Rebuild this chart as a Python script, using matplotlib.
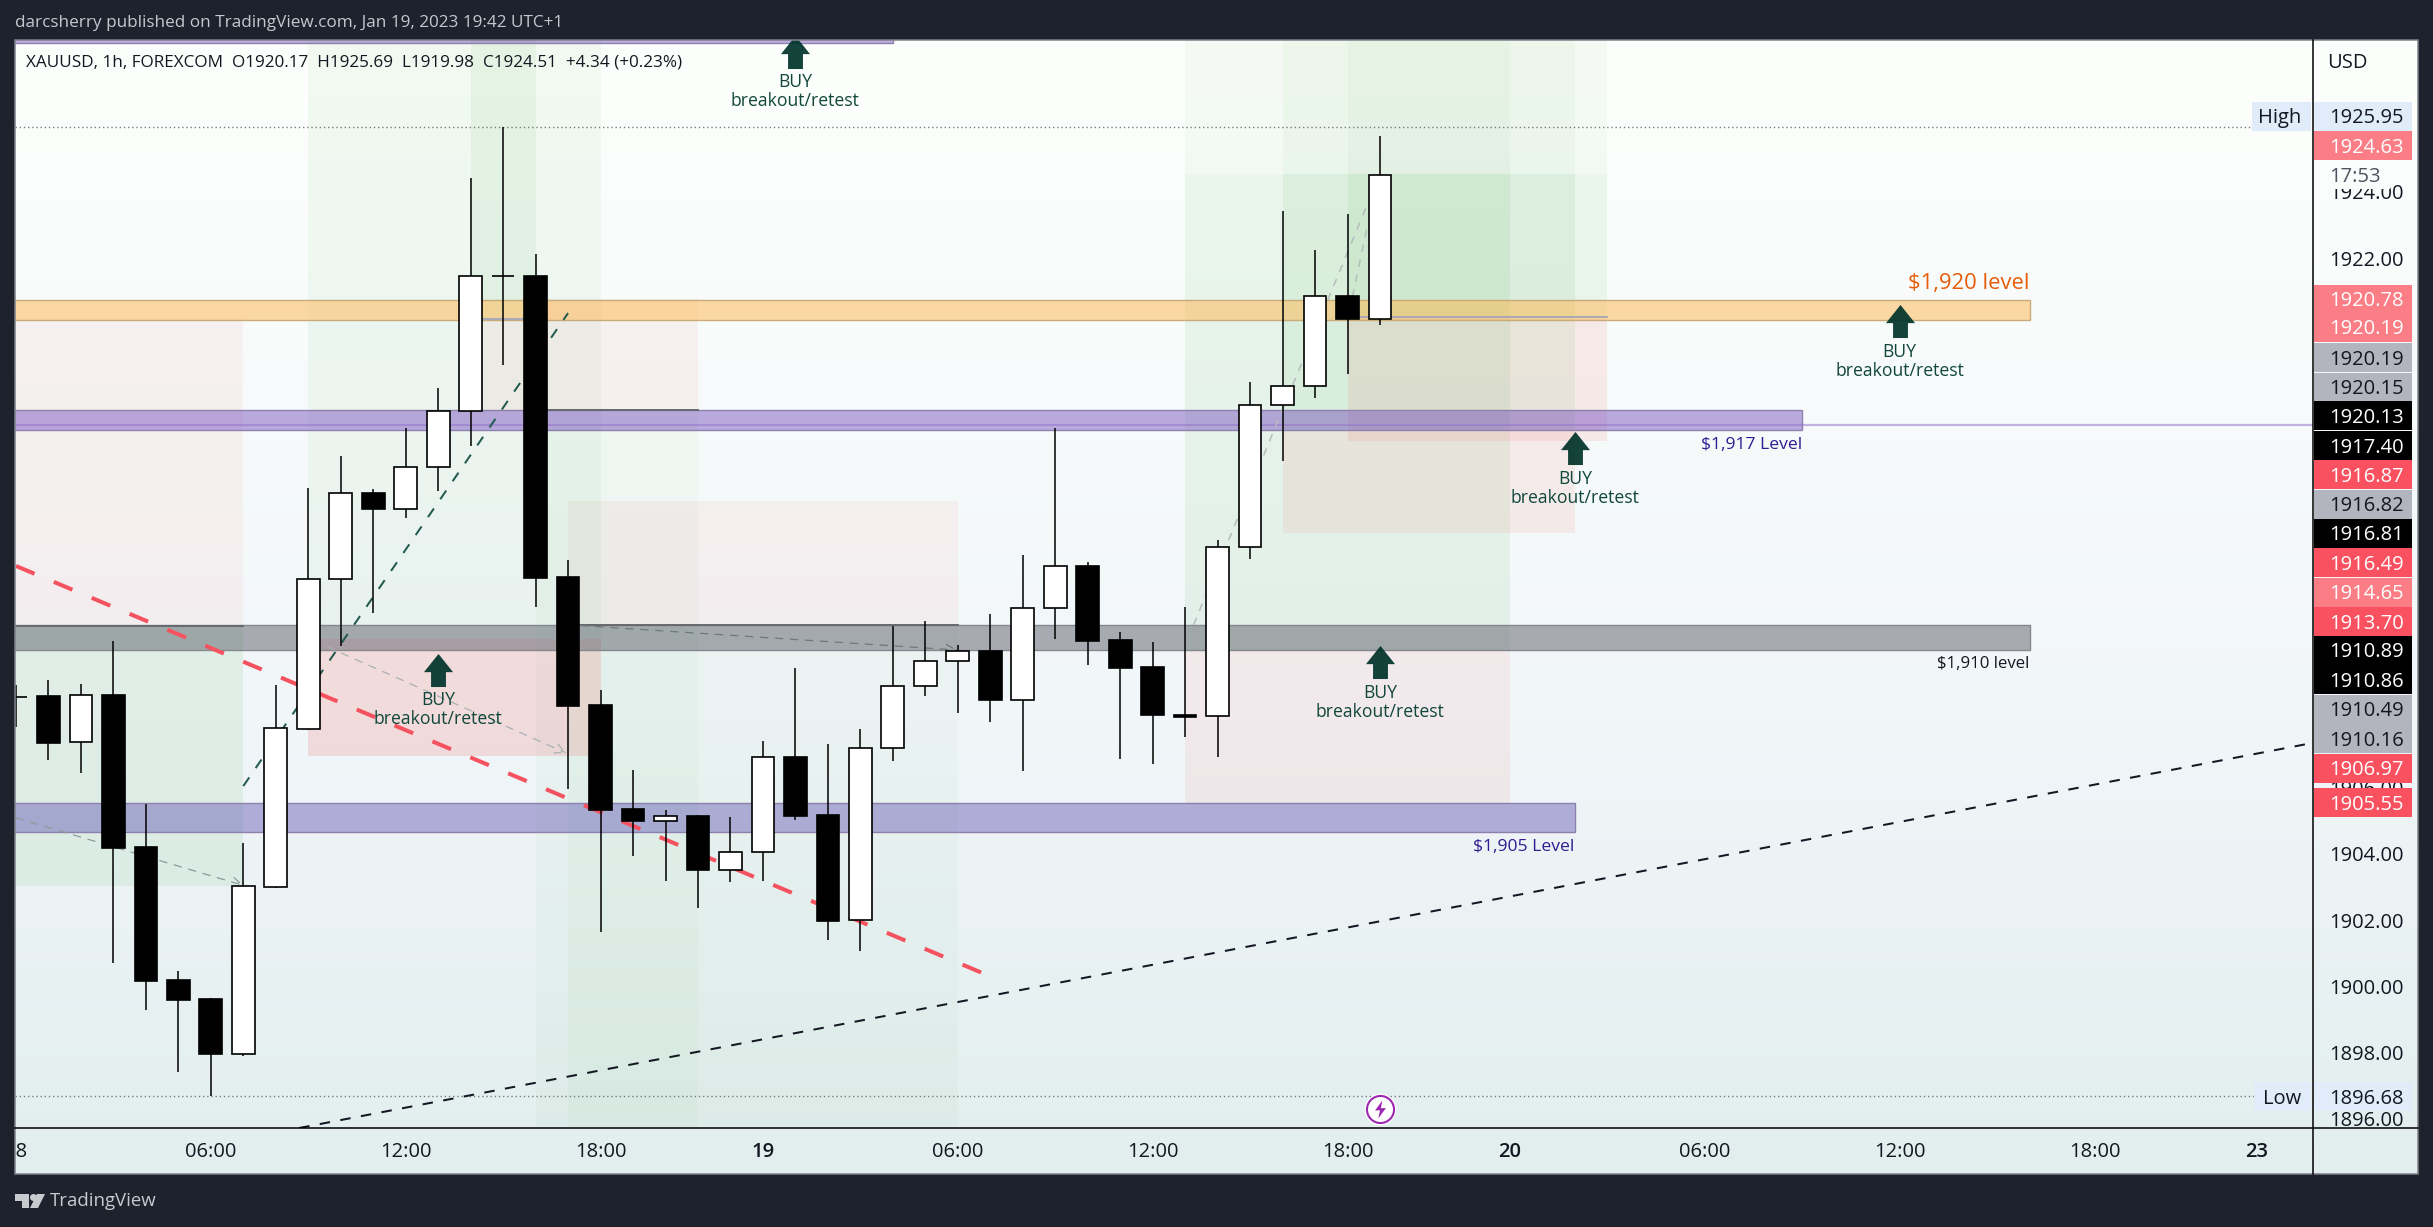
import numpy as np
import matplotlib
matplotlib.use("Agg")
import matplotlib.pyplot as plt
from matplotlib.colors import LinearSegmentedColormap, to_rgba
from matplotlib.patches import Rectangle, Polygon, Circle
from matplotlib.path import Path

plt.rcParams['font.family'] = ['Open Sans', 'DejaVu Sans']

# ---------- data ----------
bar_index = list(range(-6, 37))
opens = [1908.75,1908.77,1907.37,1908.80,1904.21,1900.19,1899.61,1897.97,1903.01,1907.78,1912.30,1914.91,1914.43,1915.68,1917.37,1921.46,1921.46,1912.37,1908.50,1905.36,1905.01,1905.15,1903.50,1904.05,1906.93,1905.18,1902.00,1907.19,1909.07,1909.82,1910.13,1908.66,1911.42,1912.70,1910.47,1909.65,1908.21,1908.16,1913.27,1917.56,1918.13,1920.86,1920.17]
highs = [1909.10,1909.26,1909.14,1910.43,1905.51,1900.46,1899.65,1904.33,1909.10,1915.06,1916.02,1915.03,1916.87,1918.08,1924.42,1925.95,1922.13,1912.88,1908.95,1906.54,1905.33,1905.18,1905.12,1907.41,1909.62,1907.32,1907.78,1910.90,1911.04,1910.31,1911.25,1913.03,1916.86,1912.82,1910.71,1910.40,1911.46,1913.48,1918.26,1923.43,1922.25,1923.34,1925.69]
lows = [1907.83,1906.85,1906.45,1900.70,1899.30,1897.41,1896.68,1897.90,1902.97,1907.75,1910.28,1911.29,1914.16,1914.95,1916.31,1918.78,1911.47,1905.97,1901.65,1903.95,1903.19,1902.38,1903.16,1903.17,1905.03,1901.41,1901.08,1906.82,1908.78,1908.27,1908.00,1906.52,1910.50,1909.72,1906.88,1906.73,1907.54,1906.94,1912.92,1915.88,1917.76,1918.51,1919.98]
closes = [1908.74,1907.36,1908.79,1904.18,1900.17,1899.60,1897.97,1903.02,1907.79,1912.30,1914.90,1914.42,1915.68,1917.37,1921.45,1921.45,1912.35,1908.48,1905.34,1905.01,1905.14,1903.50,1904.05,1906.92,1905.15,1901.98,1907.19,1909.07,1909.82,1910.12,1908.66,1911.42,1912.69,1910.44,1909.63,1908.21,1908.14,1913.27,1917.56,1918.13,1920.85,1920.16,1924.51]

price_ticks = [1896,1898,1900,1902,1904,1906,1922,1924]
time_ticks = [-6,0,6,12,17,23,29,35,40,46,52,58,63]
time_labels = ['18','06:00','12:00','18:00','19','06:00','12:00','18:00','20','06:00','12:00','18:00','23']
bold_time = {'19','20','23'}

green_zones = [(-7,1,1903.03,1910.89,.10),(3,12,1910.49,1929,.06),(8,10,1920.15,1929,.08),
               (10,15,1895,1917.40,.04),(11,23,1895,1910.86,.04),
               (30,40,1910.16,1924.54,.09),(30,40,1924.54,1929,.045),
               (33,42,1916.81,1924.54,.085),(33,42,1924.54,1929,.045),
               (35,43,1920.19,1924.54,.085),(35,43,1924.54,1929,.045)]
red_zones = [(-7,1,1910.89,1920.19,.05),(3,12,1906.97,1910.49,.15),(8,10,1917.40,1920.15,.06),
             (10,15,1917.40,1920.78,.06),(11,23,1910.86,1914.65,.05),
             (30,40,1905.55,1910.16,.07),(33,42,1913.70,1916.81,.08),(35,43,1916.49,1920.19,.09)]
entry_lines = [(-7,1,1910.89,'#666a6e'),(10,15,1917.42,'#666a6e'),(11,23,1910.93,'#666a6e'),
               (8,10,1920.15,'#a9a9b8'),(35,43,1920.22,'#a9a9b8')]

bands = [(-7,21,1928.49,1929.5,'#673ab7',.42,'#8c80ad'),
         (-7,56,1920.14,1920.73,'#ffb74d',.50,'#c8ab78'),
         (-7,49,1916.80,1917.40,'#673ab7',.42,'#8c80ad'),
         (-7,56,1910.15,1910.91,'#5d606b',.50,'#85888c'),
         (-7,42,1904.67,1905.53,'#5a4cb0',.42,'#8c80ad')]

red_trend = ([-6,23.98],[1912.70,1900.31])
black_trend = ([2.72,64.7],[1895.72,1907.35])
green_trend = ([1.0,11.0],[1906.05,1920.34])
arrow_trends = [((-6,1905.09),(1,1903.05),'#8f9a9a'),((3.6,1910.25),(10.94,1907.05),'#aab0b4'),
                ((11.39,1910.90),(22.98,1910.16),'#6f7a78')]
thin_trends = [([30.26,35.58],[1910.92,1923.55]),([35.15,35.6],[1920.83,1922.91])]

buy_x = [18,7,36,42,52]
buy_center = [1928.24,1909.57,1909.79,1916.25,1920.09]
buy_text = 'BUY\nbreakout/retest'

high_price, low_price = 1925.95, 1896.68
level_notes = [(56,1921.24,'$1,920 level','#e65c0a',15.8),(49,1916.34,'$1,917 Level','#311b92',12.6),
               (42,1904.22-.0,'$1,905 Level','#311b92',12.6),(56,1909.74,'$1,910 level','#131722',12.1)]

badge_labels = ['1925.95','1924.63','1920.78','1920.19','1920.19','1920.15','1920.13','1917.40','1916.87','1916.82','1916.81','1916.49','1914.65','1913.70','1910.89','1910.86','1910.49','1910.16','1906.97','1905.55','1896.68']
badge_kind = ['hl','lr','lr','lr','g','g','k','k','r','g','k','r','lr','r','k','k','g','g','r','r','hl']

# ---------- layout (pixels) ----------
W, H = 2433, 1227
PL, PT, PR, PB = 15, 40, 2418, 1174      # outer chart panel
GX, GY = 2312.7, 1128                    # price/time axis separators
badge_y = [116,145.7,299,327.3,357.7,387,415.7,445.7,474.7,504,533.3,562.7,592,621.7,650.3,679.7,709.3,738.7,768.3,802.7,1096.7]
badge_style = {'hl':('#e1ecfa','#131722'),'lr':('#fb7d85','#ffffff'),'g':('#b2b5be','#131722'),
               'k':('#000000','#ffffff'),'r':('#fa5160','#ffffff')}
FS = 14.5
TXT = '#131722'

fig = plt.figure(figsize=(W/100, H/100), dpi=100, facecolor='#1e222d')

# background gradient
axb = fig.add_axes([0,0,1,1], zorder=0)
axb.set_xlim(0,W); axb.set_ylim(H,0); axb.axis('off')
cmap = LinearSegmentedColormap.from_list('bg',[(0,'#fdfffc'),(.35,'#f6fafa'),(.6,'#f1f6f9'),(1,'#e2eeee')])
axb.imshow(np.linspace(0,1,256)[:,None], cmap=cmap, aspect='auto', extent=(PL,PR,PB,PT), vmin=0, vmax=1)
axb.set_xlim(0,W); axb.set_ylim(H,0)

# main axes
ax = fig.add_axes([PL/W, 1-GY/H, (GX-PL)/W, (GY-PT)/H], zorder=1)
ax.patch.set_alpha(0)
ax.set_xlim(-6.03,64.72); ax.set_ylim(1895.72,1928.59)
for s in ax.spines.values(): s.set_visible(False)
ax.yaxis.tick_right()
ax.set_yticks(price_ticks); ax.set_yticklabels([f'{p:.2f}' for p in price_ticks])
ax.set_xticks(time_ticks); ax.set_xticklabels(time_labels)
ax.tick_params(axis='y', length=0, pad=11.7, labelsize=FS, labelcolor=TXT)
ax.tick_params(axis='x', length=0, pad=9.8, labelsize=FS, labelcolor=TXT)
for l in ax.get_xticklabels():
    if l.get_text() in bold_time: l.set_fontweight('semibold')

for x0,x1,lo,hi,a in green_zones:
    ax.bar(x0,hi-lo,x1-x0,lo,align='edge',color='#4caf50',alpha=a,lw=0,zorder=1)
for x0,x1,lo,hi,a in red_zones:
    ax.bar(x0,hi-lo,x1-x0,lo,align='edge',color='#f44336',alpha=a,lw=0,zorder=1)
for x0,x1,lo,hi,c,a,e in bands:
    ax.bar(x0,hi-lo,x1-x0,lo,align='edge',facecolor=to_rgba(c,a),edgecolor=e,lw=1.0,zorder=2)
for x0,x1,y,c in entry_lines:
    ax.plot([x0,x1],[y,y],color=c,lw=1.4,zorder=2.2)
ax.axhline(1916.97,color='#9575cd',alpha=.55,lw=1.6,zorder=2.3)
ax.axhline(high_price,xmax=(2252-PL)/(GX-PL),color='#787b86',lw=1,ls=(0,(1,2)),zorder=2.3)
ax.axhline(low_price,xmax=(2254-PL)/(GX-PL),color='#787b86',lw=1,ls=(0,(1,2)),zorder=2.3)

ax.plot(*red_trend,color='#f5525f',lw=2.9,ls=(0,(5.0,5.2)),dash_capstyle='butt',zorder=3)
ax.plot(*black_trend,color='#131722',lw=1.45,ls=(0,(5.2,5.2)),dash_capstyle='butt',zorder=3)
ax.plot(*green_trend,color='#235b50',lw=1.45,ls=(0,(5.2,5.6)),dash_capstyle='butt',zorder=3)
for xs,ys in thin_trends:
    ax.plot(xs,ys,color='#b4bcbc',lw=1.1,ls=(0,(5,5)),zorder=3)
for a,b,c in arrow_trends:
    ax.annotate('',xy=b,xytext=a,zorder=3,
                arrowprops=dict(arrowstyle='->,head_length=0.7,head_width=0.35',color=c,lw=.9,ls=(0,(6,6)),shrinkA=0,shrinkB=0))

# candles
o,h,l,c = map(np.array,(opens,highs,lows,closes))
xs = np.array(bar_index)
up = c>=o
ax.vlines(xs,l,h,color='black',lw=1.1,zorder=4)
bot = np.minimum(o,c); ht = np.maximum(np.abs(c-o),0.01)
ax.bar(xs,ht,0.70,bot,color=np.where(up,'white','black').tolist(),edgecolor='black',lw=1.2,zorder=4.2)

# BUY arrows
arrow = Path([(-.88,-.1),(0,1),(.88,-.1),(.45,-.1),(.45,-1),(-.45,-1),(-.45,-.1),(-.88,-.1)],closed=True)
ax.plot(buy_x,buy_center,ls='',marker=arrow,ms=23.8,mfc='#00332a',mec='none',alpha=.92,zorder=5)
for x,y in zip(buy_x,buy_center):
    ax.annotate(buy_text,(x,y),xytext=(0,-15.5),textcoords='offset points',ha='center',va='top',
                fontsize=12.7,color='#12473c',linespacing=1.06,zorder=5,annotation_clip=False)

for x,y,t,col,fs in level_notes:
    ax.text(x,y,t,color=col,fontsize=fs,ha='right',va='center',zorder=5)

# event icon
ax.plot([36],[1896.30],marker='o',ms=21.6,mfc='white',mec='white',zorder=6)
ax.plot([36],[1896.30],marker='o',ms=19.5,mfc='none',mec='#9c27b0',mew=1.5,zorder=6.1)
bolt = Path([(.2,1),(-.6,-.1),(-.05,-.1),(-.25,-1),(.6,.15),(.05,.15),(.2,1)],closed=True)
ax.plot([36],[1896.30],marker=bolt,ms=13,mfc='#9c27b0',mec='none',zorder=6.2)

# chrome overlay
axo = fig.add_axes([0,0,1,1], zorder=3)
axo.patch.set_alpha(0); axo.set_xlim(0,W); axo.set_ylim(H,0); axo.axis('off')
axo.add_patch(Rectangle((0,0),PL,H,fc='#1e222d',ec='none'))
axo.add_patch(Rectangle((PL,PT),PR-PL,PB-PT,fc='none',ec='#7e8189',lw=1.1))
axo.plot([GX,GX],[PT,PB],color='black',lw=1.1)
axo.plot([PL,PR],[GY,GY],color='black',lw=1.1)
BX0, BX1 = 2313.5, 2412
DY = 2
for t,k,y in zip(badge_labels,badge_kind,badge_y):
    fc,tc = badge_style[k]
    axo.add_patch(Rectangle((BX0,y-14.5),BX1-BX0,29,fc=fc,ec='none'))
    axo.text(2329,y+DY,t,color=tc,fontsize=FS,ha='left',va='center')
axo.add_patch(Rectangle((BX0,163),2390-BX0,26,fc='#fbfcfc',ec='none'))
axo.text(2329,175+DY,'17:53',color='#50535e',fontsize=FS,ha='left',va='center')
for txt,x0,y in (('High',2252,116),('Low',2254,1096.7)):
    axo.add_patch(Rectangle((x0,y-14.5),2311-x0,29,fc='#e1ecfa',ec='none'))
    axo.text(2301,y+DY,txt,color=TXT,fontsize=FS,ha='right',va='center')
axo.text(2327,60.7+DY,'USD',color=TXT,fontsize=FS,ha='left',va='center')

axo.text(15,23,'darcsherry published on TradingView.com, Jan 19, 2023 19:42 UTC+1',color='#c5c8cf',fontsize=12.3,ha='left',va='center')
axo.text(26,62.5,'XAUUSD, 1h, FOREXCOM  O1920.17  H1925.69  L1919.98  C1924.51  +4.34 (+0.23%)',color=TXT,fontsize=12.3,ha='left',va='center')

# footer logo
LC = '#c8cad0'
axo.add_patch(Polygon([(15,1194),(29,1194),(29,1208),(22,1208),(22,1201),(15,1201)],fc=LC,ec='none'))
axo.add_patch(Circle((33.5,1197.5),3.5,fc=LC,ec='none'))
axo.add_patch(Polygon([(37,1194),(45,1194),(38,1208),(30,1208)],fc=LC,ec='none'))
axo.text(50,1201,'TradingView',color=LC,fontsize=13.4,ha='left',va='center')

fig.savefig('out.png',dpi=100,facecolor=fig.get_facecolor())
